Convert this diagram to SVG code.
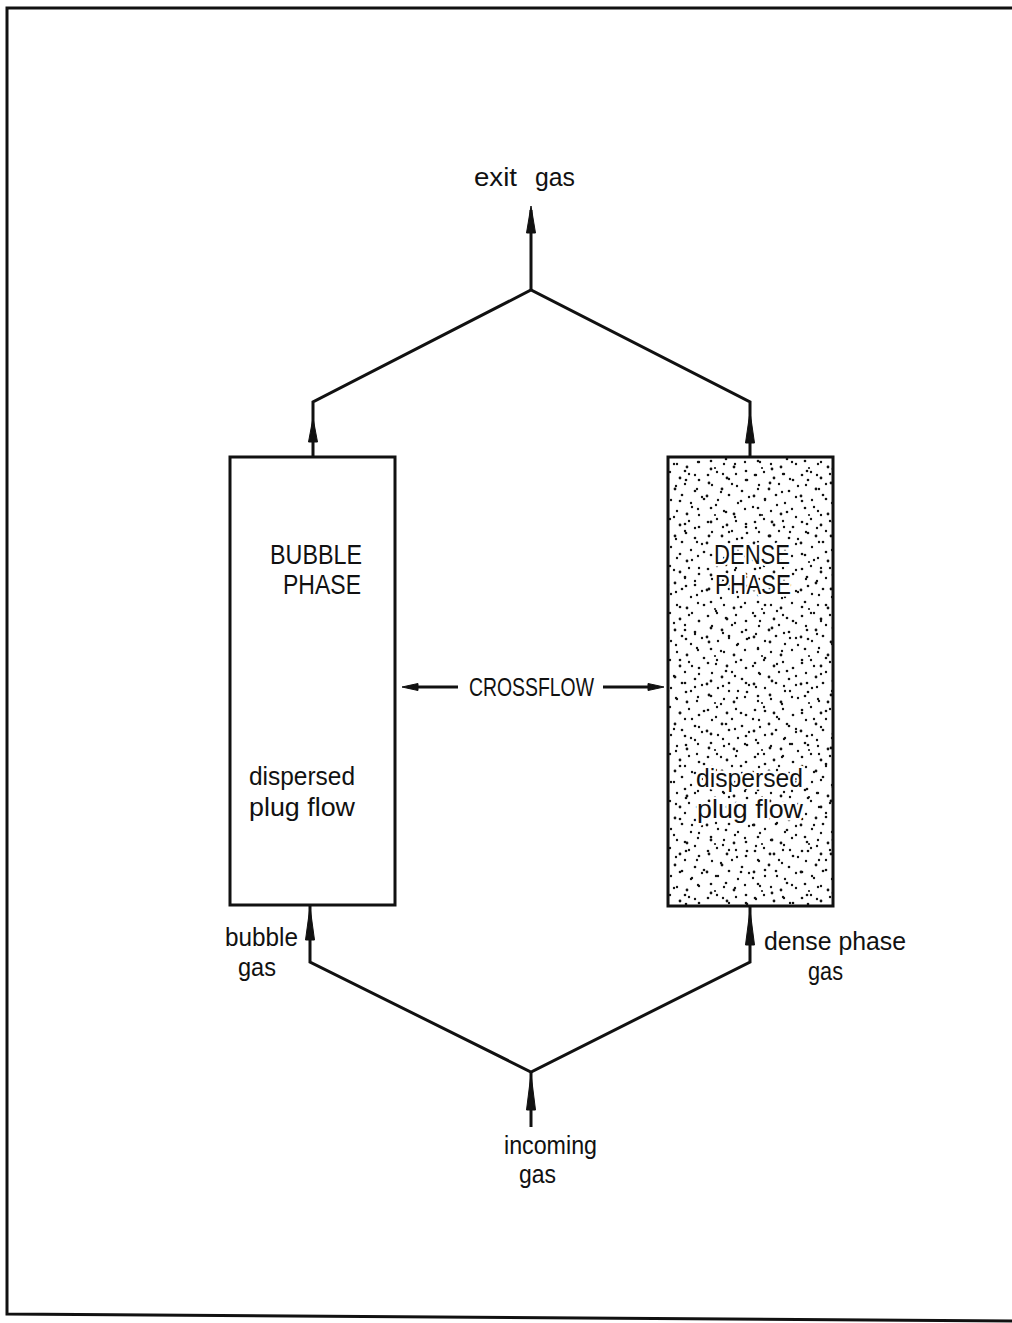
<svg xmlns="http://www.w3.org/2000/svg" width="1012" height="1323" viewBox="0 0 1012 1323">
<style>
.ln{fill:none;stroke:#111;stroke-width:3;stroke-linejoin:miter}
.box{stroke:#111;stroke-width:3}
.ah{fill:#111;stroke:#111;stroke-width:1}
.t{font-family:"Liberation Sans",Arial,sans-serif;fill:#111}
.lc{font-size:25px}
.uc{font-size:27px}
.halo{stroke:#fff;stroke-width:5;stroke-linejoin:round;paint-order:stroke}
</style>
<defs>
<pattern id="dA" width="47" height="47" patternUnits="userSpaceOnUse">
<g fill="#111">
<circle cx="3" cy="5" r="1.3"/><circle cx="12" cy="2" r="1.2"/><circle cx="22" cy="8" r="1.4"/><circle cx="31" cy="4" r="1.2"/><circle cx="41" cy="10" r="1.3"/>
<circle cx="7" cy="15" r="1.2"/><circle cx="17" cy="19" r="1.4"/><circle cx="27" cy="14" r="1.2"/><circle cx="37" cy="21" r="1.3"/><circle cx="44" cy="27" r="1.2"/>
<circle cx="2" cy="26" r="1.4"/><circle cx="13" cy="30" r="1.2"/><circle cx="24" cy="25" r="1.3"/><circle cx="33" cy="33" r="1.2"/><circle cx="6" cy="38" r="1.3"/>
<circle cx="19" cy="41" r="1.2"/><circle cx="29" cy="44" r="1.4"/><circle cx="40" cy="39" r="1.2"/><circle cx="10" cy="45" r="1.1"/>
</g>
</pattern>
<pattern id="dB" width="61" height="53" patternUnits="userSpaceOnUse">
<g fill="#111">
<circle cx="5" cy="9" r="1.2"/><circle cx="15" cy="3" r="1.3"/><circle cx="26" cy="12" r="1.2"/><circle cx="38" cy="6" r="1.4"/><circle cx="50" cy="15" r="1.2"/>
<circle cx="58" cy="2" r="1.2"/><circle cx="9" cy="24" r="1.3"/><circle cx="21" cy="30" r="1.2"/><circle cx="33" cy="22" r="1.3"/><circle cx="45" cy="28" r="1.2"/>
<circle cx="55" cy="35" r="1.3"/><circle cx="3" cy="40" r="1.2"/><circle cx="14" cy="47" r="1.3"/><circle cx="28" cy="38" r="1.2"/><circle cx="40" cy="45" r="1.4"/>
<circle cx="52" cy="50" r="1.2"/><circle cx="24" cy="51" r="1.2"/>
</g>
</pattern>
</defs>
<rect width="1012" height="1323" fill="#fff"/>
<path class="ln" d="M1012,8 H7 V1314 L1012,1321"/>

<g id="bubble-phase">
<rect class="box" x="230" y="457" width="165" height="448" fill="#fff"/>
<text class="t uc" x="270" y="564" textLength="92" lengthAdjust="spacingAndGlyphs">BUBBLE</text>
<text class="t uc" x="283" y="594" textLength="78" lengthAdjust="spacingAndGlyphs">PHASE</text>
<text class="t lc" x="249" y="785" textLength="106" lengthAdjust="spacingAndGlyphs">dispersed</text>
<text class="t lc" x="249" y="816" textLength="106" lengthAdjust="spacingAndGlyphs">plug flow</text>
</g>

<g id="dense-phase">
<rect x="668" y="457" width="165" height="449" fill="#fff"/>
<rect x="668" y="457" width="165" height="449" fill="url(#dA)"/>
<rect x="668" y="457" width="165" height="449" fill="url(#dB)"/>
<rect class="box" x="668" y="457" width="165" height="449" fill="none"/>
<text class="t uc halo" x="714" y="564" textLength="76" lengthAdjust="spacingAndGlyphs">DENSE</text>
<text class="t uc halo" x="715" y="594" textLength="76" lengthAdjust="spacingAndGlyphs">PHASE</text>
<text class="t lc halo" x="696" y="787" textLength="107" lengthAdjust="spacingAndGlyphs">dispersed</text>
<text class="t lc halo" x="697" y="818" textLength="106" lengthAdjust="spacingAndGlyphs">plug flow</text>
</g>

<g id="labels">
<text class="t lc" y="186"><tspan x="474" textLength="43" lengthAdjust="spacingAndGlyphs">exit</tspan><tspan x="535" textLength="40" lengthAdjust="spacingAndGlyphs">gas</tspan></text>
<text class="t lc" x="469" y="696" font-size="24" textLength="125" lengthAdjust="spacingAndGlyphs">CROSSFLOW</text>
<text class="t lc" x="225" y="946" textLength="73" lengthAdjust="spacingAndGlyphs">bubble</text>
<text class="t lc" x="238" y="976" textLength="38" lengthAdjust="spacingAndGlyphs">gas</text>
<text class="t lc" x="764" y="950" textLength="142" lengthAdjust="spacingAndGlyphs">dense phase</text>
<text class="t lc" x="808" y="980" textLength="35" lengthAdjust="spacingAndGlyphs">gas</text>
<text class="t lc" x="504" y="1154" textLength="93" lengthAdjust="spacingAndGlyphs">incoming</text>
<text class="t lc" x="519" y="1183" textLength="37" lengthAdjust="spacingAndGlyphs">gas</text>
</g>

<g id="connectors">
<path class="ln" d="M531,290 V210"/>
<path class="ln" d="M313,457 V402 L531,290 L750,402 V457"/>
<path class="ln" d="M310,905 V962 L531,1072 L750,962 V906"/>
<path class="ln" d="M531,1072 V1127"/>
<path class="ln" d="M458,687 H410"/>
<path class="ln" d="M603,687 H655"/>
<polygon class="ah" points="531,206 526.5,233 535.5,233"/>
<polygon class="ah" points="313,418 308.5,442 317.5,442"/>
<polygon class="ah" points="750,412 745.5,443 754.5,443"/>
<polygon class="ah" points="310,907 305.5,940 314.5,940"/>
<polygon class="ah" points="750,910 745.5,945 754.5,945"/>
<polygon class="ah" points="531,1074 526.5,1110 535.5,1110"/>
<polygon class="ah" points="402,687 418,683.5 418,690.5"/>
<polygon class="ah" points="664,687 648,683.5 648,690.5"/>
</g>
</svg>
